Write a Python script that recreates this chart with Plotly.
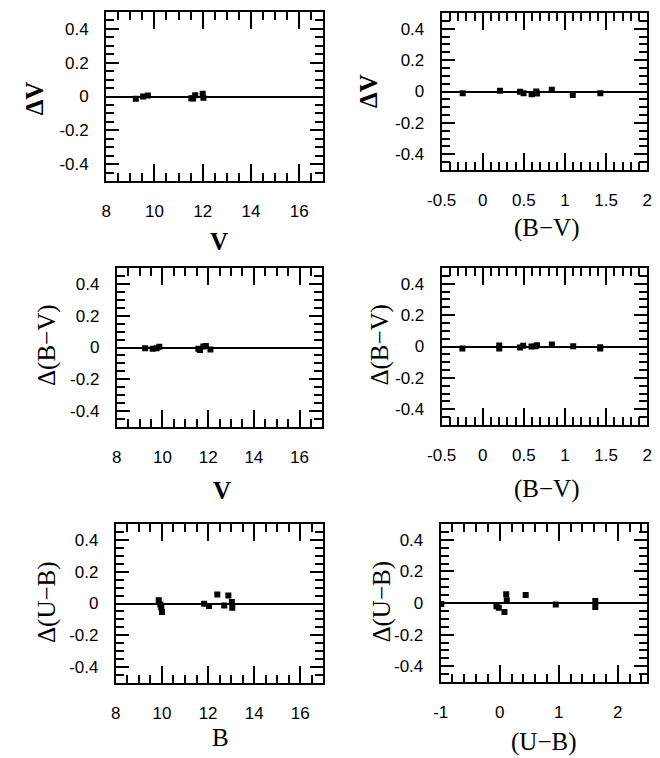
import plotly.graph_objects as go

W, H = 660, 758

# ---- data ----
V_p1 = [9.23, 9.53, 9.73, 11.53, 11.60, 11.69, 12.00, 12.03]
dV_p1 = [-0.014, 0.0, 0.006, -0.010, -0.012, 0.008, 0.016, -0.008]

BV_p2 = [-0.244, 0.209, 0.453, 0.496, 0.594, 0.65, 0.66, 0.839, 1.094, 1.43]
dV_p2 = [-0.011, 0.005, -0.002, -0.011, -0.018, 0.0, -0.013, 0.011, -0.023, -0.011]

V_p3 = [9.24, 9.57, 9.74, 9.86, 11.57, 11.64, 11.79, 11.90, 12.10]
dBV_p3 = [-0.004, -0.008, -0.004, 0.004, -0.008, -0.015, 0.006, 0.010, -0.013]

BV_p4 = [-0.248, 0.2, 0.2, 0.452, 0.492, 0.592, 0.64, 0.66, 0.84, 1.10, 1.428, 1.428]
dBV_p4 = [-0.013, 0.006, -0.013, -0.006, 0.004, 0.0, 0.002, 0.008, 0.013, 0.002, -0.004, -0.013]

B_p5 = [9.86, 9.93, 9.97, 10.00, 11.83, 12.04, 12.40, 12.70, 12.88, 13.03, 13.05]
dUB_p5 = [0.021, -0.006, -0.025, -0.053, -0.002, -0.015, 0.057, -0.013, 0.050, 0.010, -0.027]

UB_p6 = [-0.99, -0.055, -0.016, 0.11, 0.12, 0.08, 0.44, 0.95, 1.62, 1.62]
dUB_p6 = [-0.006, -0.021, -0.030, 0.055, 0.017, -0.057, 0.050, -0.010, 0.013, -0.025]

y_tickvals = [-0.4, -0.2, 0, 0.2, 0.4]
y_ticktext = ["-0.4", "-0.2", "0", "0.2", "0.4"]
mag_tickvals = [8, 10, 12, 14, 16]
mag_ticktext = ["8", "10", "12", "14", "16"]
bv_tickvals = [-0.5, 0, 0.5, 1, 1.5, 2]
bv_ticktext = ["-0.5", "0", "0.5", "1", "1.5", "2"]
ub_tickvals = [-1, 0, 1, 2]
ub_ticktext = ["-1", "0", "1", "2"]

panels = [
    dict(x=V_p1, y=dV_p1, box=(94, 318, 12, 181), xr=[8, 17], tv=mag_tickvals, tt=mag_ticktext, minor=0.5,
         xt="<b>V</b>", yt="<b>ΔV</b>", xtpos=(210, 242), ytpos=(21, 98)),
    dict(x=BV_p2, y=dV_p2, box=(440, 652, 13, 170), xr=[-0.5, 2], tv=bv_tickvals, tt=bv_ticktext, minor=0.1,
         xt="(B−V)", yt="<b>ΔV</b>", xtpos=(548, 228), ytpos=(365, 91)),
    dict(x=V_p3, y=dBV_p3, box=(105, 317, 268, 427), xr=[8, 17], tv=mag_tickvals, tt=mag_ticktext, minor=0.5,
         xt="<b>V</b>", yt="Δ(B−V)", xtpos=(213, 490), ytpos=(33, 345)),
    dict(x=BV_p4, y=dBV_p4, box=(440, 652, 268, 425), xr=[-0.5, 2], tv=bv_tickvals, tt=bv_ticktext, minor=0.1,
         xt="(B−V)", yt="Δ(B−V)", xtpos=(548, 489), ytpos=(376, 345)),
    dict(x=B_p5, y=dUB_p5, box=(104, 318, 524, 683), xr=[8, 17], tv=mag_tickvals, tt=mag_ticktext, minor=0.5,
         xt="B", yt="Δ(U−B)", xtpos=(212, 737), ytpos=(33, 602)),
    dict(x=UB_p6, y=dUB_p6, box=(439, 652, 524, 682), xr=[-1, 2.5], tv=ub_tickvals, tt=ub_ticktext, minor=0.2,
         xt="(U−B)", yt="Δ(U−B)", xtpos=(545, 742), ytpos=(378, 602)),
]

fig = go.Figure()
layout = dict(width=W, height=H, margin=dict(l=0, r=0, t=0, b=0),
              paper_bgcolor="white", plot_bgcolor="white", showlegend=False)
annotations = []
tickfont = dict(family="Liberation Sans, Arial, sans-serif", size=17, color="black")
titlefont = dict(family="Liberation Serif, Times New Roman, serif", size=25, color="black")
common = dict(tickcolor="black", showline=True, linecolor="black", linewidth=2,
              mirror="allticks", showgrid=False, ticks="inside", tickwidth=1.5)

n = len(panels)
for i, p in enumerate(panels, start=1):
    l, r, t, b = p["box"]
    xa = "xaxis" if i == 1 else f"xaxis{i}"
    ya = "yaxis" if i == 1 else f"yaxis{i}"
    xref = "x" if i == 1 else f"x{i}"
    yref = "y" if i == 1 else f"y{i}"
    mi = i + n
    xref_m, yref_m = f"x{mi}", f"y{mi}"
    # major axes with labels
    layout[xa] = dict(domain=[l / W, r / W], anchor=yref, range=p["xr"],
                      tickmode="array", tickvals=p["tv"], ticktext=p["tt"], ticklen=17,
                      zeroline=False, tickfont=tickfont, ticklabelstandoff=14, **common)
    layout[ya] = dict(domain=[1 - b / H, 1 - t / H], anchor=xref, range=[-0.5, 0.5],
                      tickmode="array", tickvals=y_tickvals, ticktext=y_ticktext, ticklen=13,
                      zeroline=True, zerolinecolor="black", zerolinewidth=1.5,
                      tickfont=tickfont, ticklabelstandoff=12, **common)
    # minor-tick axes overlaying the major ones
    layout[f"xaxis{mi}"] = dict(overlaying=xref, anchor=yref_m, range=p["xr"],
                                tickmode="linear", tick0=0, dtick=p["minor"], ticklen=8,
                                showticklabels=False, zeroline=False, **common)
    layout[f"yaxis{mi}"] = dict(overlaying=yref, anchor=xref_m, range=[-0.5, 0.5],
                                tickmode="linear", tick0=0, dtick=0.05, ticklen=8,
                                showticklabels=False, zeroline=False, **common)
    fig.add_trace(go.Scatter(x=p["x"], y=p["y"], xaxis=xref, yaxis=yref, mode="markers",
                             marker=dict(symbol="square", size=6, color="black")))
    fig.add_trace(go.Scatter(x=[], y=[], xaxis=xref_m, yaxis=yref_m, mode="markers",
                             hoverinfo="skip"))
    annotations.append(dict(text=p["xt"], xref="paper", yref="paper",
                            x=p["xtpos"][0] / W, y=1 - p["xtpos"][1] / H,
                            xanchor="center", yanchor="middle", showarrow=False, font=titlefont))
    annotations.append(dict(text=p["yt"], xref="paper", yref="paper",
                            x=p["ytpos"][0] / W, y=1 - p["ytpos"][1] / H, textangle=-90,
                            xanchor="center", yanchor="middle", showarrow=False, font=titlefont))

layout["annotations"] = annotations
fig.update_layout(**layout)
fig.write_html("out.html")
